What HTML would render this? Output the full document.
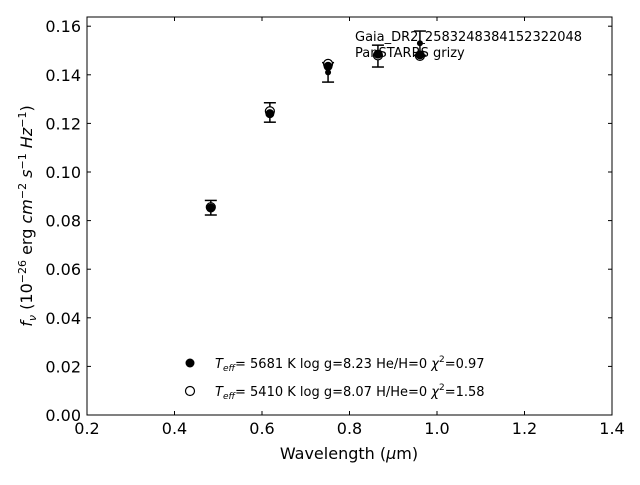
<!DOCTYPE html>
<html><head><meta charset="utf-8"><style>
body{margin:0;background:#fff}
svg{font-family:"DejaVu Sans","Liberation Sans",sans-serif}
</style></head><body>
<svg id="c" width="640" height="480" xmlns="http://www.w3.org/2000/svg">
<rect x="87" y="17" width="525" height="398" fill="none" stroke="#000" stroke-width="1"/>
<g id="ticks"></g>
<g id="marks"></g>
<text x="355" y="41" font-size="13">Gaia_DR2_2583248384152322048</text>
<text x="355" y="57" font-size="13">PanSTARRS grizy</text>
<text x="349" y="459" font-size="16" text-anchor="middle">Wavelength (<tspan font-style="italic">μ</tspan>m)</text>
<text transform="translate(32,216) rotate(-90)" font-size="16" text-anchor="middle"><tspan font-style="italic">f<tspan font-size="11" dy="4">ν</tspan></tspan><tspan dy="-4"> (10</tspan><tspan font-size="11" dy="-6">−26</tspan><tspan dy="6"> erg </tspan><tspan font-style="italic">cm</tspan><tspan font-size="11" dy="-6">−2</tspan><tspan dy="6" font-style="italic"> s</tspan><tspan font-size="11" dy="-6">−1</tspan><tspan dy="6" font-style="italic"> Hz</tspan><tspan font-size="11" dy="-6">−1</tspan><tspan dy="6">)</tspan></text>
<g>
<circle cx="190" cy="363" r="4.5" fill="#000"/>
<text x="215" y="368" font-size="13"><tspan font-style="italic">T<tspan font-size="9" dy="3">eff</tspan></tspan><tspan dy="-3">=  5681 K  log g=8.23  He/H=0  </tspan><tspan font-style="italic">χ</tspan><tspan font-size="9" dy="-6">2</tspan><tspan dy="6">=0.97</tspan></text>
<circle cx="190" cy="391" r="4.5" fill="#fff" stroke="#000" stroke-width="1.2"/>
<text x="215" y="396" font-size="13"><tspan font-style="italic">T<tspan font-size="9" dy="3">eff</tspan></tspan><tspan dy="-3">=  5410 K  log g=8.07  H/He=0  </tspan><tspan font-style="italic">χ</tspan><tspan font-size="9" dy="-6">2</tspan><tspan dy="6">=1.58</tspan></text>
</g>
</svg>
<script>
const wavelengths=[0.483,0.618,0.751,0.865,0.961];
const obsFlux=[0.0853,0.1245,0.141,0.1477,0.153];
const obsErr=[0.003,0.004,0.004,0.0045,0.005];
const model1Flux=[0.0852,0.1240,0.1435,0.1485,0.1482];
const model2Flux=[0.0855,0.1250,0.1445,0.1480,0.1478];
const xTicks=[0.2,0.4,0.6,0.8,1.0,1.2,1.4];
const yTicks=[0,0.02,0.04,0.06,0.08,0.10,0.12,0.14,0.16];
const NS="http://www.w3.org/2000/svg";
const X=w=>87+(w-0.2)/1.2*525;
const Y=v=>415-v*2430;
function mk(t,a,p){const e=document.createElementNS(NS,t);for(const k in a)e.setAttribute(k,a[k]);p.appendChild(e);return e;}
const tk=document.getElementById('ticks'),mg=document.getElementById('marks');
xTicks.forEach(t=>{const x=X(t);
 let l=mk('line',{x1:x,x2:x,y1:415,y2:411,stroke:'#000'},tk);
 
 
 let l2=mk('line',{x1:x,x2:x,y1:17,y2:21,stroke:'#000'},tk);
 
 
 let s=mk('text',{x:x,y:434,'font-size':16,'text-anchor':'middle'},tk);s.textContent=t.toFixed(1);
 
 });
yTicks.forEach(t=>{const y=Y(t);
 let l=mk('line',{x1:87,x2:91,y1:y,y2:y,stroke:'#000'},tk);
 
 
 let l2=mk('line',{x1:612,x2:608,y1:y,y2:y,stroke:'#000'},tk);
 
 
 let s=mk('text',{x:81,y:y+6,'font-size':16,'text-anchor':'end'},tk);s.textContent=t.toFixed(2);
 
 });
wavelengths.forEach((w,i)=>{const x=X(w);
 const g=mk('g',{},mg);
 
 
 const y1=Y(obsFlux[i]+obsErr[i]),y2=Y(obsFlux[i]-obsErr[i]);
 mk('line',{x1:x,x2:x,y1:y1,y2:y2,stroke:'#000','stroke-width':1.5},g);
 mk('line',{x1:x-6,x2:x+6,y1:y1,y2:y1,stroke:'#000','stroke-width':1.5},g);
 mk('line',{x1:x-6,x2:x+6,y1:y2,y2:y2,stroke:'#000','stroke-width':1.5},g);
 mk('circle',{cx:x,cy:Y(obsFlux[i]),r:3,fill:'#000'},g);
 const m2=mk('circle',{cx:x,cy:Y(model2Flux[i]),r:4.5,fill:'#fff',stroke:'#000','stroke-width':1.2},mg);
 
 
 const m1=mk('circle',{cx:x,cy:Y(model1Flux[i]),r:4.5,fill:'#000'},mg);
 
 
});
</script>
</body></html>
